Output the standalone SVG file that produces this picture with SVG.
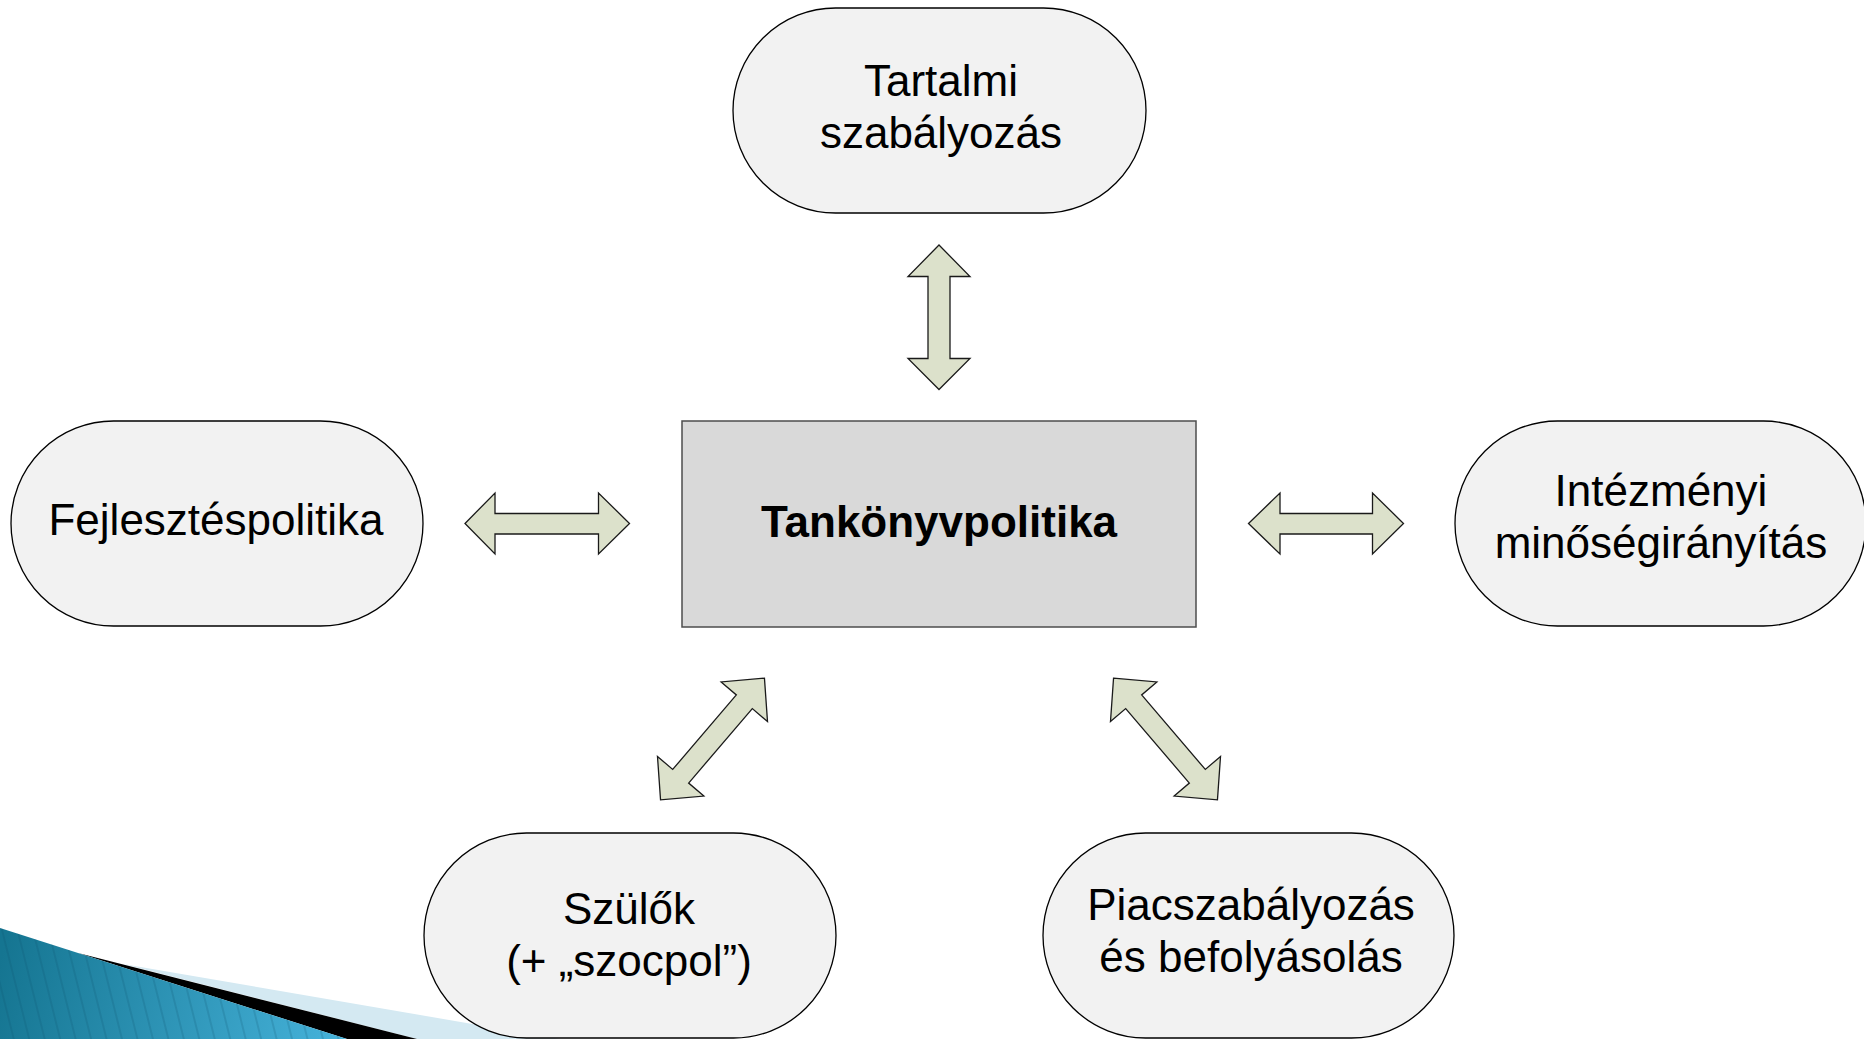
<svg xmlns="http://www.w3.org/2000/svg" width="1864" height="1039" viewBox="0 0 1864 1039">
<defs>
<style>
.node{fill:#f2f2f2;stroke:#000;stroke-width:1.3}
.center{fill:#d9d9d9;stroke:#4d4d4d;stroke-width:1.5}
.arr{fill:#dce1cb;stroke:#1a1a1a;stroke-width:1.3;stroke-linejoin:miter}
.t{font-family:"Liberation Sans",Arial,sans-serif;font-size:44px;fill:#000;text-anchor:middle}
.b{font-weight:bold}
</style>
<linearGradient id="blueGrad" gradientUnits="userSpaceOnUse" x1="0" y1="960" x2="350" y2="1039">
<stop offset="0" stop-color="#157591"/>
<stop offset="1" stop-color="#47b4dc"/>
</linearGradient>
<pattern id="stripes" width="15" height="15" patternUnits="userSpaceOnUse" patternTransform="rotate(-14)">
<line x1="2" y1="0" x2="2" y2="15" stroke="#0b5068" stroke-opacity="0.18" stroke-width="2"/>
</pattern>
<path id="diag" d="M-80,0 L-49,-30.5 L-49,-10.5 L49,-10.5 L49,-30.5 L80,0 L49,30.5 L49,10.5 L-49,10.5 L-49,30.5 Z"/>
</defs>
<rect width="1864" height="1039" fill="#fff"/>
<g id="decoration">
<polygon points="123,964 560,1039 417,1039" fill="#d4e9f2"/>
<polygon points="78,953 417,1039 347,1039" fill="#000"/>
<polygon points="0,928 347,1039 0,1039" fill="url(#blueGrad)"/>
<polygon points="0,928 347,1039 0,1039" fill="url(#stripes)"/>
</g>
<g id="connectors">
<polygon class="arr" points="465,523.5 495,493 495,513.5 598.5,513.5 598.5,493 629.5,523.5 598.5,554 598.5,534 495,534 495,554"/>
<polygon class="arr" points="1248.5,523.5 1280,493 1280,513.5 1372.5,513.5 1372.5,493 1403.5,523.5 1372.5,554 1372.5,534 1280,534 1280,554"/>
<polygon class="arr" points="939,245 970,276.5 950,276.5 950,358.5 970,358.5 939,389.5 908,358.5 928,358.5 928,276.5 908,276.5"/>
<use href="#diag" class="arr" transform="translate(712.5,739) rotate(-49.5)"/>
<use href="#diag" class="arr" transform="translate(1165.5,739) rotate(49.5)"/>
</g>
<g id="node-center">
<rect class="center" x="682" y="421" width="514" height="206"/>
<text class="t b" x="939" y="537">Tankönyvpolitika</text>
</g>
<g id="node-top">
<rect class="node" x="733" y="8" width="413" height="205" rx="102.5"/>
<text class="t" x="941" y="96">Tartalmi</text>
<text class="t" x="941" y="148">szabályozás</text>
</g>
<g id="node-left">
<rect class="node" x="11" y="421" width="412" height="205" rx="102.5"/>
<text class="t" x="216" y="535">Fejlesztéspolitika</text>
</g>
<g id="node-right">
<rect class="node" x="1455" y="421" width="411" height="205" rx="102.5"/>
<text class="t" x="1661" y="506">Intézményi</text>
<text class="t" x="1661" y="558">minőségirányítás</text>
</g>
<g id="node-bottom-left">
<rect class="node" x="424" y="833" width="412" height="205" rx="102.5"/>
<text class="t" x="629" y="924">Szülők</text>
<text class="t" x="629" y="976">(+ „szocpol”)</text>
</g>
<g id="node-bottom-right">
<rect class="node" x="1043" y="833" width="411" height="205" rx="102.5"/>
<text class="t" x="1251" y="920">Piacszabályozás</text>
<text class="t" x="1251" y="972">és befolyásolás</text>
</g>
</svg>
